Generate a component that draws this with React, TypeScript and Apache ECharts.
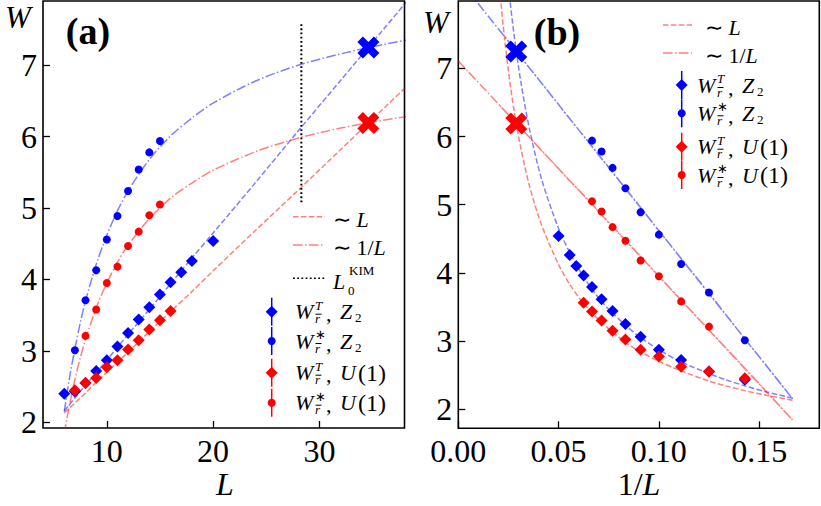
import React, { useEffect, useRef } from "react";
import * as echarts from "echarts";

// ---------- data ----------
const blueDiamondL = [6, 7, 8, 9, 10, 11, 12, 13, 14, 15, 16, 17, 18, 20];
const blueDiamondW = [2.40, 2.43, 2.55, 2.72, 2.87, 3.06, 3.25, 3.44, 3.61, 3.79, 3.96, 4.10, 4.26, 4.54];
const redDiamondL = [7, 8, 9, 10, 11, 12, 13, 14, 15, 16];
const redDiamondW = [2.45, 2.55, 2.62, 2.77, 2.87, 3.02, 3.15, 3.30, 3.43, 3.56];
const blueCircleL = [7, 8, 9, 10, 11, 12, 13, 14, 15];
const blueCircleW = [3.01, 3.71, 4.13, 4.56, 4.89, 5.24, 5.54, 5.78, 5.94];
const redCircleL = [8, 9, 10, 11, 12, 13, 14, 15];
const redCircleW = [3.21, 3.58, 3.95, 4.18, 4.47, 4.67, 4.90, 5.05];
const rightPanelMinL = 7; // panel (b) shows sizes from L = 7

const extrapL = 34.6;
const blueExtrapW = 7.25;
const redExtrapW = 6.19;

const kimL = 28.3;
const kimW = [5.08, 7.6];

// fit curves
const fitL = [6, 6.5, 7, 7.5, 8, 9, 10, 11, 12, 14, 16, 18, 20, 24, 28, 32, 36, 40, 45, 50];
const blueLinFit = [2.16, 2.25, 2.34, 2.43, 2.52, 2.69, 2.87, 3.05, 3.23, 3.58, 3.94, 4.30, 4.65, 5.36, 6.08, 6.79, 7.50, 8.21, 9.10, 9.99];
const redLinFit = [2.13, 2.20, 2.27, 2.34, 2.41, 2.56, 2.70, 2.84, 2.98, 3.27, 3.55, 3.83, 4.12, 4.69, 5.25, 5.82, 6.39, 6.96, 7.67, 8.38];
const blueInvFit = [2.15, 2.63, 3.03, 3.39, 3.70, 4.21, 4.62, 4.96, 5.24, 5.68, 6.01, 6.26, 6.47, 6.78, 7.00, 7.16, 7.29, 7.40, 7.50, 7.58];
const redInvFit = [1.84, 2.25, 2.60, 2.90, 3.16, 3.60, 3.95, 4.24, 4.48, 4.85, 5.14, 5.35, 5.53, 5.79, 5.98, 6.12, 6.23, 6.32, 6.41, 6.48];
const blueInvFitAtInf = 8.32;
const redInvFitAtInf = 7.11;

const yTicks = [2, 3, 4, 5, 6, 7];
const leftXTicks = [10, 20, 30];
const rightXTicks = [0, 0.05, 0.1, 0.15];

// ---------- styles ----------
const FONT = "Liberation Serif";
const BLUE = "#0000ff";
const RED = "#ff0000";
const PALE_BLUE = "rgba(0,0,255,0.5)";
const PALE_RED = "rgba(255,0,0,0.5)";
const DASH = [5.5, 2.4];
const DASHDOT = [9.6, 2.4, 1.5, 2.4];
const DOT = [1.8, 2.4];
const XSYM = "path://M3,0L6,3L9,0L12,3L9,6L12,9L9,12L6,9L3,12L0,9L3,6L0,3Z";

const pairs = (xs: number[], ys: number[]) => xs.map((x, i) => [x, ys[i]]);
const invPairs = (xs: number[], ys: number[]) =>
  xs.map((x, i) => [1 / x, ys[i]]);

function fitSeries(ax: number, data: number[][], color: string, dash: number[]) {
  return {
    type: "line",
    xAxisIndex: ax,
    yAxisIndex: ax,
    data,
    symbol: "none",
    showSymbol: false,
    smooth: 0.3,
    clip: true,
    silent: true,
    lineStyle: { color, width: 1.5, type: dash },
    z: 2,
  };
}
function ptSeries(ax: number, data: number[][], color: string, symbol: string, size: number, z: number) {
  return {
    type: "scatter",
    xAxisIndex: ax,
    yAxisIndex: ax,
    data,
    symbol,
    symbolSize: size,
    silent: true,
    itemStyle: { color, opacity: 1 },
    z,
  };
}

function T(x: number, y: number, text: string, size: number, o: any = {}) {
  return {
    type: "text",
    x,
    y,
    silent: true,
    z: 100,
    style: {
      text,
      fontSize: size,
      fontFamily: FONT,
      fontStyle: o.italic ? "italic" : "normal",
      fontWeight: o.bold ? "bold" : "normal",
      fill: "#000",
      lineHeight: o.lh,
      align: o.align || "left",
      textAlign: o.align || "left",
      verticalAlign: "middle",
      textVerticalAlign: "middle",
      rich: o.rich,
    },
  };
}

const LEG = 22;
const SCR = 13;

function wLabel(x0: number, y: number, star: boolean, grp: "Z" | "U") {
  const els: any[] = [
    T(x0, y, "W", LEG, { italic: true }),
    star ? T(x0 + 20, y - 6.5, "∗", SCR, { lh: 10 }) : T(x0 + 20, y - 6.5, "T", SCR, { italic: true, lh: 10 }),
    T(x0 + 20, y + 7, "r", SCR, { italic: true, lh: 10 }),
    {
      type: "line",
      z: 100,
      silent: true,
      shape: { x1: x0 + 20.5, y1: y + 2.5, x2: x0 + 26.5, y2: y + 2.5 },
      style: { stroke: "#000", lineWidth: 1 },
    },
    T(x0 + 31, y + 2, ",", LEG),
  ];
  if (grp === "Z") {
    els.push(T(x0 + 45, y, "Z", LEG, { italic: true }));
    els.push(T(x0 + 60, y + 6, "2", SCR, { lh: 10 }));
  } else {
    els.push(T(x0 + 45, y, "U", LEG, { italic: true }));
    els.push(T(x0 + 63, y, "(1)", 24));
  }
  return els;
}

function errMarker(x: number, y: number, color: string, kind: "d" | "c") {
  const els: any[] = [
    {
      type: "line",
      z: 100,
      silent: true,
      shape: { x1: x, y1: y - 14, x2: x, y2: y + 14 },
      style: { stroke: color, lineWidth: 1.5 },
    },
  ];
  if (kind === "d") {
    els.push({
      type: "polygon",
      z: 101,
      silent: true,
      shape: { points: [[x, y - 6], [x + 6, y], [x, y + 6], [x - 6, y]] },
      style: { fill: color },
    });
  } else {
    els.push({ type: "circle", z: 101, silent: true, shape: { cx: x, cy: y, r: 4 }, style: { fill: color } });
  }
  return els;
}

function legLine(x1: number, x2: number, y: number, color: string, dash: number[]) {
  return {
    type: "line",
    z: 100,
    silent: true,
    shape: { x1, y1: y, x2, y2: y },
    style: { stroke: color, lineWidth: 1.5, lineDash: dash },
  };
}

const italicRich = { i: { fontStyle: "italic", fontFamily: FONT, fontSize: LEG } };

function buildOption() {
  const axisBase = (ticks: number[], margin: number, fmt?: (v: number) => string) => ({
    type: "value",
    axisLine: { show: false },
    splitLine: { show: false },
    axisTick: {
      show: true,
      inside: true,
      length: 7,
      lineStyle: { color: "#000", width: 1.3 },
      customValues: ticks,
    },
    axisLabel: {
      color: "#000",
      fontFamily: FONT,
      fontSize: 32,
      margin,
      customValues: ticks,
      formatter: fmt ? (v: number) => fmt(v) : (v: number) => String(v),
    },
  });

  const blueDR = blueDiamondL
    .map((L, i) => [L, blueDiamondW[i]])
    .filter((p) => p[0] >= rightPanelMinL)
    .map((p) => [1 / p[0], p[1]]);

  const series: any[] = [
    // panel (a)
    fitSeries(0, pairs(fitL, blueLinFit), PALE_BLUE, DASH),
    fitSeries(0, pairs(fitL, blueInvFit), PALE_BLUE, DASHDOT),
    fitSeries(0, pairs(fitL, redLinFit), PALE_RED, DASH),
    fitSeries(0, pairs(fitL, redInvFit), PALE_RED, DASHDOT),
    {
      type: "line",
      xAxisIndex: 0,
      yAxisIndex: 0,
      data: [[kimL, kimW[0]], [kimL, kimW[1]]],
      symbol: "none",
      silent: true,
      lineStyle: { color: "#000", width: 2, type: DOT },
      z: 2,
    },
    ptSeries(0, pairs(blueDiamondL, blueDiamondW), BLUE, "diamond", 12, 3),
    ptSeries(0, pairs(blueCircleL, blueCircleW), BLUE, "circle", 8, 3),
    ptSeries(0, pairs(redDiamondL, redDiamondW), RED, "diamond", 12, 4),
    ptSeries(0, pairs(redCircleL, redCircleW), RED, "circle", 8, 4),
    ptSeries(0, [[extrapL, blueExtrapW]], BLUE, XSYM, 22, 5),
    ptSeries(0, [[extrapL, redExtrapW]], RED, XSYM, 22, 5),
    // panel (b)
    fitSeries(1, invPairs(fitL, blueLinFit), PALE_BLUE, DASH),
    fitSeries(1, [[0, blueInvFitAtInf], ...invPairs(fitL, blueInvFit)], PALE_BLUE, DASHDOT),
    fitSeries(1, invPairs(fitL, redLinFit), PALE_RED, DASH),
    fitSeries(1, [[0, redInvFitAtInf], ...invPairs(fitL, redInvFit)], PALE_RED, DASHDOT),
    ptSeries(1, blueDR, BLUE, "diamond", 12, 3),
    ptSeries(1, invPairs(blueCircleL, blueCircleW), BLUE, "circle", 8, 3),
    ptSeries(1, invPairs(redDiamondL, redDiamondW), RED, "diamond", 12, 4),
    ptSeries(1, invPairs(redCircleL, redCircleW), RED, "circle", 8, 4),
    ptSeries(1, [[1 / extrapL, blueExtrapW]], BLUE, XSYM, 22, 5),
    ptSeries(1, [[1 / extrapL, redExtrapW]], RED, XSYM, 22, 5),
  ];

  const graphics: any[] = [
    // axis titles and panel tags
    T(18, 17, "W", 31, { italic: true, align: "center", lh: 26 }),
    T(436, 22, "W", 31, { italic: true, align: "center", lh: 26 }),
    T(225, 484, "L", 32, { italic: true, align: "center" }),
    T(639, 484, "1/{i|L}", 32, { align: "center", rich: { i: { fontStyle: "italic", fontFamily: FONT, fontSize: 32 } } }),
    T(88, 31, "(a)", 38, { bold: true, align: "center" }),
    T(557, 32, "(b)", 38, { bold: true, align: "center" }),
    // legend (a): fits
    legLine(293, 325, 216.7, PALE_RED, DASH),
    T(333, 219, "∼ {i|L}", LEG, { rich: italicRich }),
    legLine(293, 325, 245, PALE_RED, DASHDOT),
    T(333, 247, "∼ 1/{i|L}", LEG, { rich: italicRich }),
    legLine(293, 325, 278.3, "#000", DOT),
    T(333, 281, "L", LEG, { italic: true }),
    T(348, 290, "0", SCR, { lh: 10 }),
    T(349, 270, "KIM", 13, { lh: 10 }),
    // legend (a): data
    ...errMarker(271.7, 311.7, BLUE, "d"),
    ...wLabel(295, 311.7, false, "Z"),
    ...errMarker(271.7, 341, BLUE, "c"),
    ...wLabel(295, 341, true, "Z"),
    ...errMarker(271.7, 372.7, RED, "d"),
    ...wLabel(295, 372.7, false, "U"),
    ...errMarker(271.7, 402.7, RED, "c"),
    ...wLabel(295, 402.7, true, "U"),
    // legend (b)
    legLine(663, 692, 25, PALE_RED, DASH),
    T(705, 27, "∼ {i|L}", LEG, { rich: italicRich }),
    legLine(663, 692, 53, PALE_RED, DASHDOT),
    T(705, 55, "∼ 1/{i|L}", LEG, { rich: italicRich }),
    ...errMarker(681.7, 85, BLUE, "d"),
    ...wLabel(697, 85, false, "Z"),
    ...errMarker(681.7, 113.3, BLUE, "c"),
    ...wLabel(697, 113.3, true, "Z"),
    ...errMarker(681.7, 146.7, RED, "d"),
    ...wLabel(697, 146.7, false, "U"),
    ...errMarker(681.7, 175, RED, "c"),
    ...wLabel(697, 175, true, "U"),
  ];

  return {
    animation: false,
    backgroundColor: "#ffffff",
    grid: [
      { left: 43, top: 1, width: 361.5, height: 427, show: true, borderColor: "#000", borderWidth: 1.6, backgroundColor: "transparent", containLabel: false },
      { left: 458.3, top: 1, width: 361, height: 427.3, show: true, borderColor: "#000", borderWidth: 1.6, backgroundColor: "transparent", containLabel: false },
    ],
    xAxis: [
      { ...axisBase(leftXTicks, 7), gridIndex: 0, min: 4, max: 38 },
      { ...axisBase(rightXTicks, 7, (v) => v.toFixed(2)), gridIndex: 1, min: 0, max: 0.18 },
    ],
    yAxis: [
      { ...axisBase(yTicks, 6), gridIndex: 0, min: 1.92, max: 7.9 },
      { ...axisBase(yTicks, 6), gridIndex: 1, min: 1.717, max: 7.99 },
    ],
    series,
    graphic: { elements: graphics },
  };
}

export default function App() {
  const ref = useRef<HTMLDivElement | null>(null);
  useEffect(() => {
    if (!ref.current) return;
    const chart = echarts.init(ref.current, null, { renderer: "svg" });
    chart.setOption(buildOption() as any);
    return () => chart.dispose();
  }, []);
  return (
    <div
      ref={ref}
      style={{ position: "absolute", left: 0, top: 0, width: 821, height: 506 }}
    />
  );
}
